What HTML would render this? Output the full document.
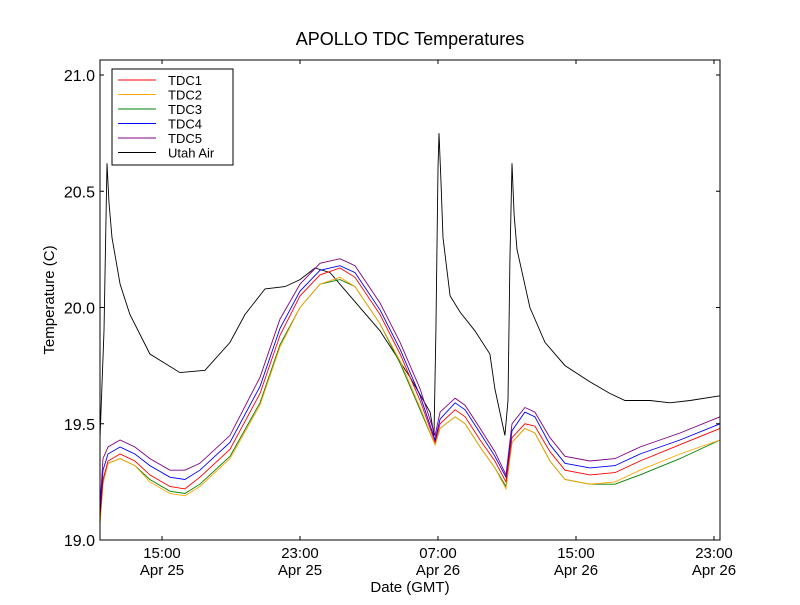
<!DOCTYPE html>
<html><head><meta charset="utf-8"><style>
body{margin:0;background:#fff;}
svg text{font-family:"Liberation Sans","DejaVu Sans",sans-serif;}
</style></head><body>
<svg id="chart" width="800" height="600" xmlns="http://www.w3.org/2000/svg">
<rect width="800" height="600" fill="#fff"/>
<text x="410" y="45" font-size="18" text-anchor="middle">APOLLO TDC Temperatures</text>
<g id="plot"></g>
<rect x="100" y="60" width="620" height="480" fill="none" stroke="#000" stroke-width="1"/>
<text transform="translate(54,300) rotate(-90)" font-size="15" text-anchor="middle">Temperature (C)</text>
<text x="410" y="592" font-size="15" text-anchor="middle">Date (GMT)</text>
<g id="ticks"></g>
<g id="legend"></g>
</svg>
<script>
const tdcTimes=[11.41,11.58,11.87,12.57,13.43,14.30,15.46,16.33,17.20,18.94,20.68,21.84,23.00,24.16,25.32,26.19,27.64,28.80,29.96,30.83,31.12,31.99,32.57,33.44,34.30,34.94,35.29,36.04,36.62,37.49,38.36,39.81,41.26,42.71,45.03,47.35];
const tdc5=[19.15,19.35,19.40,19.43,19.40,19.35,19.30,19.30,19.33,19.45,19.70,19.95,20.10,20.19,20.21,20.18,20.02,19.85,19.65,19.45,19.55,19.61,19.58,19.48,19.38,19.28,19.50,19.57,19.55,19.44,19.36,19.34,19.35,19.40,19.46,19.53];
const tdc4=[19.12,19.30,19.37,19.40,19.37,19.32,19.27,19.26,19.30,19.42,19.66,19.91,20.07,20.16,20.18,20.15,19.99,19.82,19.62,19.43,19.52,19.59,19.56,19.46,19.36,19.27,19.47,19.55,19.53,19.41,19.33,19.31,19.32,19.37,19.43,19.50];
const tdc1=[19.10,19.26,19.34,19.37,19.34,19.28,19.23,19.22,19.27,19.39,19.63,19.88,20.05,20.14,20.17,20.13,19.97,19.80,19.60,19.42,19.50,19.56,19.53,19.43,19.34,19.25,19.44,19.50,19.49,19.38,19.30,19.28,19.29,19.34,19.41,19.48];
const tdc2=[19.07,19.24,19.33,19.35,19.32,19.25,19.20,19.19,19.23,19.35,19.58,19.83,20.00,20.10,20.13,20.09,19.93,19.77,19.57,19.41,19.48,19.53,19.50,19.40,19.31,19.22,19.42,19.48,19.46,19.34,19.26,19.24,19.25,19.30,19.37,19.43];
const tdc3=[19.09,19.25,19.33,19.35,19.32,19.26,19.21,19.20,19.24,19.36,19.59,19.84,20.00,20.10,20.12,20.09,19.93,19.76,19.56,19.41,19.48,19.53,19.50,19.40,19.31,19.23,19.42,19.48,19.46,19.34,19.26,19.24,19.24,19.28,19.35,19.43];
const airTimes=[11.41,11.64,11.81,11.93,12.10,12.57,13.14,14.30,16.04,17.49,18.94,19.81,20.97,22.13,23.00,23.87,24.74,25.90,27.64,29.38,30.54,30.77,30.88,31.00,31.06,31.17,31.29,31.70,32.28,33.14,34.01,34.30,34.59,34.88,35.06,35.17,35.29,35.41,35.58,36.33,37.20,38.36,39.81,40.97,41.84,43.29,44.45,45.61,47.35];
const utahAir=[19.45,19.9,20.62,20.45,20.3,20.1,19.97,19.8,19.72,19.73,19.85,19.97,20.08,20.09,20.12,20.17,20.15,20.05,19.9,19.7,19.55,19.45,19.9,20.6,20.75,20.55,20.3,20.05,19.98,19.9,19.8,19.65,19.55,19.45,19.6,20.2,20.62,20.4,20.25,20.0,19.85,19.75,19.68,19.63,19.6,19.6,19.59,19.6,19.62];
const yTicks=[19.0,19.5,20.0,20.5,21.0];
const yTickLabels=["19.0","19.5","20.0","20.5","21.0"];
const xTicks=[15,23,31,39,47];
const xTickTimes=["15:00","23:00","07:00","15:00","23:00"];
const xTickDates=["Apr 25","Apr 25","Apr 26","Apr 26","Apr 26"];
const seriesNames=["TDC1","TDC2","TDC3","TDC4","TDC5","Utah Air"];

const NS="http://www.w3.org/2000/svg";
function X(h){return 162+(h-15)*17.25;}
function Y(v){return 540-(v-19)*232.5;}
const plot=document.getElementById('plot');
function line(times,vals,color,name){
  const p=document.createElementNS(NS,'polyline');
  p.setAttribute('points',times.map((t,i)=>X(t).toFixed(1)+','+Y(vals[i]).toFixed(1)).join(' '));
  p.setAttribute('fill','none');p.setAttribute('stroke',color);p.setAttribute('stroke-width','0.9');
  
  
  plot.appendChild(p);
}
line(airTimes,utahAir,'#000','utah-air-line');
line(tdcTimes,tdc3,'#008000','tdc3-line');
line(tdcTimes,tdc2,'#ffa500','tdc2-line');
line(tdcTimes,tdc1,'#ff0000','tdc1-line');
line(tdcTimes,tdc4,'#0000ff','tdc4-line');
line(tdcTimes,tdc5,'#800080','tdc5-line');

const tg=document.getElementById('ticks');
function mk(tag,attrs,text){const e=document.createElementNS(NS,tag);for(const k in attrs)e.setAttribute(k,attrs[k]);if(text!==undefined)e.textContent=text;tg.appendChild(e);return e;}
yTicks.forEach((v,i)=>{
  const y=Y(v);
  mk('line',{x1:100,x2:104,y1:y,y2:y,stroke:'#000'});
  mk('line',{x1:716,x2:720,y1:y,y2:y,stroke:'#000'});
  const t=mk('text',{x:95,y:y+6,'font-size':16,'text-anchor':'end'},yTickLabels[i]);
  
  
});
xTicks.forEach((h,i)=>{
  const x=X(h);
  mk('line',{x1:x,x2:x,y1:540,y2:536,stroke:'#000'});
  mk('line',{x1:x,x2:x,y1:60,y2:64,stroke:'#000'});
  const t=mk('text',{x:x,y:558,'font-size':15,'text-anchor':'middle'},xTickTimes[i]);
  
  
  const d=mk('text',{x:x,y:575,'font-size':15,'text-anchor':'middle'},xTickDates[i]);
  
  
});
const lg=document.getElementById('legend');
const colors=['#ff0000','#ffa500','#008000','#0000ff','#800080','#000'];
const box=document.createElementNS(NS,'rect');
box.setAttribute('x',112);box.setAttribute('y',69);box.setAttribute('width',121);box.setAttribute('height',96);
box.setAttribute('fill','#fff');box.setAttribute('stroke','#000');


lg.appendChild(box);
seriesNames.forEach((n,i)=>{
  const y=80+i*14.5;
  const l=document.createElementNS(NS,'line');
  l.setAttribute('x1',118);l.setAttribute('x2',156);l.setAttribute('y1',y);l.setAttribute('y2',y);l.setAttribute('stroke',colors[i]);
  
  
  lg.appendChild(l);
  const t=document.createElementNS(NS,'text');
  t.setAttribute('x',168);t.setAttribute('y',y+5);t.setAttribute('font-size',13);t.textContent=n;
  
  
  lg.appendChild(t);
});
</script>
</body></html>
